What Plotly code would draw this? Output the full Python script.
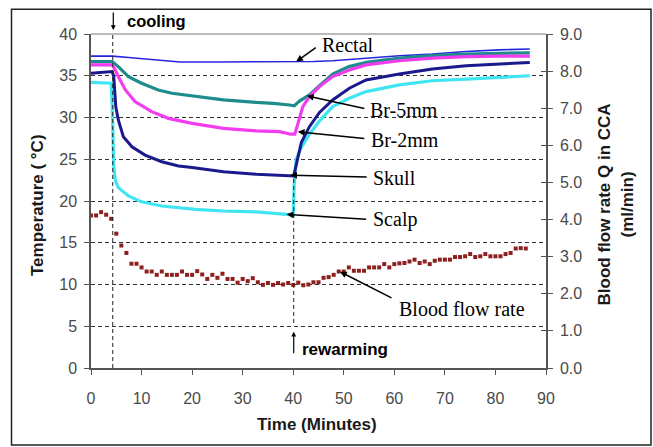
import plotly.graph_objects as go

# ---------------- data ----------------
rectal_t = [0, 4.2, 8, 12, 17.6, 25, 35, 44, 47.8, 51, 54.5, 61, 67.5, 74.2, 80.7, 86.8]
rectal_T = [37.35, 37.35, 37.15, 36.95, 36.65, 36.65, 36.65, 36.7, 36.8, 36.95, 37.1, 37.4, 37.6, 37.9, 38.1, 38.2]

br5_t = [0, 4.2, 5.4, 7.4, 10, 13.3, 16, 20, 26.2, 32.7, 36, 39.3, 40.2, 41.3, 43.2, 45.2, 47.8, 51,
         54.5, 61, 67.5, 74.2, 80.7, 86.8]
br5_T = [36.7, 36.7, 36.1, 34.9, 34.1, 33.3, 32.9, 32.6, 32.1, 31.8, 31.7, 31.5, 31.4, 32.0, 32.7, 33.8,
         35.2, 36.1, 36.6, 37.1, 37.4, 37.6, 37.7, 37.75]

br2_t = [0, 4.2, 4.8, 5.4, 6.8, 8.7, 12, 15.3, 20, 26.2, 32.7, 37.3, 39.5, 40.3, 40.8, 41.9, 43.2,
         45.2, 47.8, 51.1, 54.4, 61, 67.5, 74.2, 80.7, 86.8]
br2_T = [36.3, 36.3, 35.7, 34.9, 33.3, 31.9, 30.7, 29.9, 29.3, 28.7, 28.4, 28.3, 28.0, 28.0, 29.0,
         31.3, 32.5, 33.7, 34.9, 35.7, 36.3, 36.8, 37.1, 37.3, 37.35, 37.35]

skull_t = [0, 4.2, 4.5, 4.7, 4.9, 5.4, 6.4, 8.1, 10.7, 14, 17.3, 20, 26.2, 32.7, 39.3, 40.1, 41.6,
           43.2, 45.2, 47.8, 51.1, 54.4, 61, 67.5, 74.2, 80.7, 86.8]
skull_T = [35.3, 35.5, 34.9, 33.3, 31.3, 29.7, 27.7, 26.5, 25.5, 24.7, 24.2, 24.0, 23.5, 23.2, 23.1,
           23.0, 27.0, 28.9, 30.6, 32.1, 33.5, 34.5, 35.2, 35.8, 36.2, 36.4, 36.6]

scalp_t = [0, 4.0, 4.2, 4.3, 4.5, 4.8, 5.4, 7.4, 10, 14, 18, 20.6, 26.2, 32.7, 38.7, 40.0, 40.2,
           40.6, 41.5, 43.2, 45.2, 47.8, 51.1, 54.4, 61, 67.5, 74.2, 80.7, 86.8]
scalp_T = [34.2, 34.1, 31.3, 27.3, 24.1, 22.5, 21.6, 20.6, 19.9, 19.4, 19.1, 19.0, 18.8, 18.7, 18.4,
           18.3, 22.0, 25.0, 26.3, 28.0, 29.6, 31.3, 32.3, 33.1, 33.9, 34.4, 34.6, 34.8, 35.0]

flow_t = list(range(0, 87))
flow_Q = [4.11, 4.11, 4.20, 4.13, 4.02, 3.62, 3.30, 3.10, 2.81, 2.81,
          2.71, 2.60, 2.60, 2.51, 2.60, 2.51, 2.51, 2.51, 2.60, 2.51,
          2.51, 2.61, 2.52, 2.40, 2.51, 2.43, 2.54, 2.40, 2.40, 2.30,
          2.40, 2.34, 2.42, 2.31, 2.24, 2.29, 2.24, 2.29, 2.25, 2.29,
          2.24, 2.30, 2.23, 2.25, 2.31, 2.31, 2.43, 2.45, 2.51, 2.60,
          2.60, 2.71, 2.62, 2.62, 2.62, 2.71, 2.71, 2.71, 2.80, 2.71,
          2.80, 2.82, 2.83, 2.87, 2.92, 2.83, 2.87, 2.80, 2.89, 2.92,
          2.92, 2.92, 2.99, 2.99, 3.01, 3.07, 2.99, 3.01, 3.07, 3.01,
          3.01, 3.01, 3.07, 3.10, 3.22, 3.23, 3.22]

x_ticks = [0, 10, 20, 30, 40, 50, 60, 70, 80, 90]
temp_ticks = [0, 5, 10, 15, 20, 25, 30, 35, 40]
flow_ticks = [0, 1, 2, 3, 4, 5, 6, 7, 8, 9]

cooling_t = 4.3
rewarming_t = 40.1

# ---------------- figure ----------------
fig = go.Figure()

def line(t, T, color, width, name):
    fig.add_trace(go.Scatter(x=t, y=T, mode="lines", name=name,
                             line=dict(color=color, width=width), yaxis="y"))

line(rectal_t, rectal_T, "#2626E0", 1.6, "Rectal")
line(br5_t, br5_T, "#1F8C8C", 3.2, "Br-5mm")
line(br2_t, br2_T, "#F23CF0", 3.2, "Br-2mm")
line(scalp_t, scalp_T, "#3FE6F2", 3.2, "Scalp")
line(skull_t, skull_T, "#1A1A8C", 3.0, "Skull")

fig.add_trace(go.Scatter(x=flow_t, y=flow_Q, mode="markers", name="Blood flow rate",
                         marker=dict(symbol="square", size=4, color="#8E1F1F"),
                         yaxis="y2"))

tickfont = dict(family="Liberation Sans, Arial, sans-serif", size=16, color="#4a4a4a")
axcol = "#555555"

fig.update_layout(
    width=653, height=447,
    margin=dict(l=91, r=107, t=34, b=79),
    paper_bgcolor="white", plot_bgcolor="white",
    showlegend=False,
    xaxis=dict(range=[0, 90], tickvals=x_ticks, ticks="outside", ticklen=5, tickcolor=axcol,
               showline=True, linecolor=axcol, linewidth=1.5, mirror=False,
               showgrid=False, zeroline=False, tickfont=tickfont, ticklabelstandoff=10),
    yaxis=dict(range=[0, 40], tickvals=temp_ticks, ticks="outside", ticklen=5, tickcolor=axcol,
               showline=True, linecolor=axcol, linewidth=1.5,
               showgrid=True, gridcolor="#333333", gridwidth=1, griddash="4px,3px",
               zeroline=False, tickfont=tickfont, ticklabelstandoff=4),
    yaxis2=dict(range=[0, 9], tickvals=flow_ticks, tickformat=".1f", overlaying="y", side="right",
                ticks="outside", ticklen=5, tickcolor=axcol,
                showline=True, linecolor=axcol, linewidth=1.5,
                showgrid=False, zeroline=False, tickfont=tickfont, ticklabelstandoff=4),
    yaxis3=dict(range=[0, 9], tickvals=flow_ticks, overlaying="y", side="right",
                ticks="inside", ticklen=5, tickcolor=axcol, showticklabels=False,
                showline=False, showgrid=False, zeroline=False),
)
# dummy trace to activate yaxis3
fig.add_trace(go.Scatter(x=[None], y=[None], yaxis="y3", showlegend=False, hoverinfo="skip"))

shapes = [
    # top border of plot area
    dict(type="line", xref="paper", yref="paper", x0=0, x1=1, y0=1, y1=1,
         line=dict(color="#777777", width=1)),
    # cooling / rewarming markers
    dict(type="line", xref="x", yref="y", x0=cooling_t, x1=cooling_t, y0=0, y1=40,
         line=dict(color="#222222", width=1, dash="4px,3px")),
    dict(type="line", xref="x", yref="y", x0=rewarming_t, x1=rewarming_t, y0=5.4, y1=23,
         line=dict(color="#222222", width=1, dash="4px,3px")),
    # outer frame
    dict(type="rect", xref="paper", yref="paper", x0=-0.1747, x1=1.2308, y0=-0.2305, y1=1.074,
         line=dict(color="#222222", width=1.5)),
]
fig.update_layout(shapes=shapes)

serif = dict(family="Liberation Serif, Times New Roman, serif", size=20, color="black")
boldsans = "Liberation Sans, Arial, sans-serif"

ann = []
def arrow(x, y, ax, ay, yref="y"):
    ann.append(dict(x=x, y=y, xref="x", yref=yref, ax=ax, ay=ay, text="", showarrow=True,
                    arrowhead=2, arrowsize=0.9, arrowwidth=1.5, arrowcolor="black"))

def label(x, y, text, yref="y"):
    ann.append(dict(x=x, y=y, xref="x", yref=yref, text=text, showarrow=False,
                    xanchor="left", yanchor="middle", font=serif))

arrow(40.6, 36.7, 21, -15); label(45.3, 38.7, "Rectal")
arrow(42.7, 32.6, 59, 13); label(54.8, 30.9, "Br-5mm")
arrow(40.9, 28.3, 68, 7); label(55.0, 27.3, "Br-2mm")
arrow(39.4, 23.1, 78, 2); label(55.4, 22.75, "Skull")
arrow(38.7, 18.4, 81, 5); label(55.4, 17.8, "Scalp")
arrow(49.25, 2.595, 53, 27, yref="y2"); label(60.5, 7.07, "Blood flow rate")

# cooling (above the plot area, so in paper coordinates)
ann.append(dict(x=0.049, y=1.012, xref="paper", yref="paper", ax=0, ay=-19, text="",
                showarrow=True, arrowhead=2, arrowsize=0.8, arrowwidth=1.2, arrowcolor="black"))
ann.append(dict(x=0.0747, y=1.038, xref="paper", yref="paper", text="cooling", showarrow=False,
                xanchor="left", yanchor="middle",
                font=dict(family=boldsans, size=16.5, color="black", weight="bold")))
# rewarming
ann.append(dict(x=rewarming_t, y=4.35, xref="x", yref="y", ax=0, ay=23, text="", showarrow=True,
                arrowhead=2, arrowsize=0.8, arrowwidth=1.2, arrowcolor="black"))
ann.append(dict(x=41.3, y=2.2, xref="x", yref="y", text="rewarming", showarrow=False,
                xanchor="left", yanchor="middle",
                font=dict(family=boldsans, size=17, color="black", weight="bold")))

# axis titles
titlefont = dict(family=boldsans, size=17, color="#1a1a1a", weight="bold")
ann.append(dict(x=-0.1187, y=0.488, xref="paper", yref="paper", text="Temperature ( °C)",
                textangle=-90, showarrow=False, xanchor="center", yanchor="middle", font=titlefont))
ann.append(dict(x=0.4967, y=-0.1677, xref="paper", yref="paper", text="Time (Minutes)",
                showarrow=False, xanchor="center", yanchor="middle", font=titlefont))
ann.append(dict(x=1.1527, y=0.491, xref="paper", yref="paper",
                text="Blood flow rate Q in CCA<br>(ml/min)",
                textangle=-90, showarrow=False, xanchor="center", yanchor="middle", font=titlefont))

fig.update_layout(annotations=ann)

fig.write_html("out.html")
